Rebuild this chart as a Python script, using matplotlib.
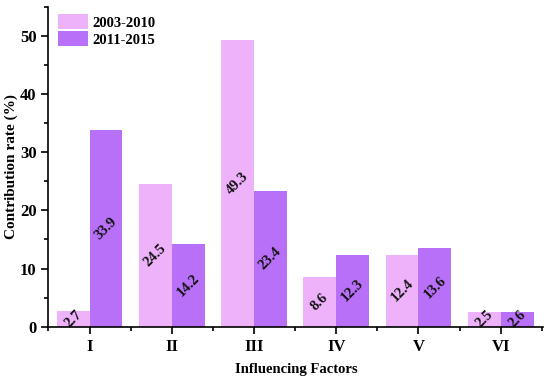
import numpy as np
import matplotlib
matplotlib.use("Agg")
import matplotlib.pyplot as plt
from matplotlib.ticker import MultipleLocator

plt.rcParams['font.family'] = ['Liberation Serif', 'DejaVu Serif']
plt.rcParams['font.weight'] = 'bold'

factors = ['I', 'II', 'III', 'IV', 'V', 'VI']
rate_2003_2010 = [2.7, 24.5, 49.3, 8.6, 12.4, 2.5]
rate_2011_2015 = [33.9, 14.2, 23.4, 12.3, 13.6, 2.6]
series_names = ['2003-2010', '2011-2015']

fig, ax = plt.subplots(figsize=(5.5, 3.79), dpi=100)
fig.subplots_adjust(left=0.088, right=0.988, top=0.982, bottom=0.138)

x = np.arange(1, len(factors) + 1)
w = 0.4
b1 = ax.bar(x - w / 2, rate_2003_2010, w, color='#EEB2FB', label=series_names[0])
b2 = ax.bar(x + w / 2, rate_2011_2015, w, color='#B970F8', label=series_names[1])

# value labels, rotated, in the middle of each bar
for bars, vals in [(b1, rate_2003_2010), (b2, rate_2011_2015)]:
    for bar, v in zip(bars, vals):
        ax.text(bar.get_x() + bar.get_width() / 2, v / 2, f'{v}', rotation=45,
                ha='center', va='center', fontsize=10.5, fontweight='bold', color='#111111')

ax.set_xlim(0.5, 6.52)
ax.set_ylim(0, 55)
ax.set_xticks(x)
ax.set_xticklabels(factors)
ax.xaxis.set_minor_locator(MultipleLocator(0.5))
ax.yaxis.set_major_locator(MultipleLocator(10))
ax.yaxis.set_minor_locator(MultipleLocator(5))
ax.tick_params(axis='both', which='major', length=5, width=1.2, labelsize=12)
ax.tick_params(axis='both', which='minor', length=3, width=1.2)
for lbl in ax.get_xticklabels() + ax.get_yticklabels():
    lbl.set_fontweight('bold')

ax.spines['top'].set_visible(False)
ax.spines['right'].set_visible(False)
ax.spines['left'].set_linewidth(1.2)
ax.spines['bottom'].set_linewidth(1.2)

ax.set_xlabel('Influencing Factors', fontsize=10.5, fontweight='bold', labelpad=6)
ax.set_ylabel('Contribution rate (%)', fontsize=11, fontweight='bold', labelpad=1.5)

ax.legend(loc='upper left', frameon=False, handlelength=2.1, handleheight=1.2,
          borderaxespad=0.0, bbox_to_anchor=(0.007, 0.995), labelspacing=0.12, handletextpad=0.3,
          prop={'weight': 'bold', 'size': 10.5})

plt.savefig('out.png', dpi=100)
